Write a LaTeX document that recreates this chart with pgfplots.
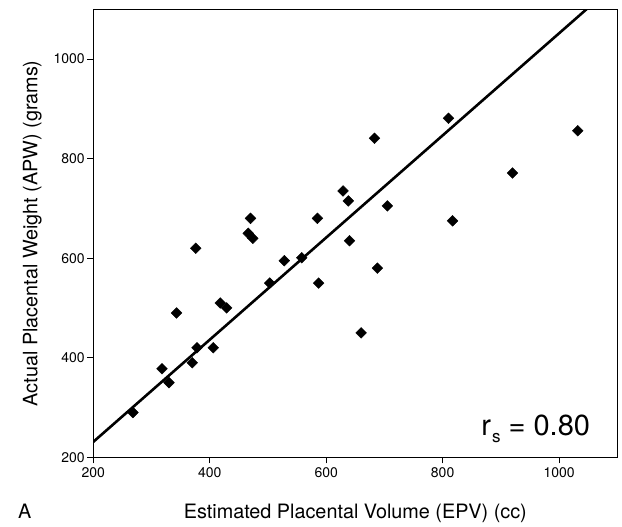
\documentclass[border=0pt]{standalone}
\usepackage{fontspec}
\setmainfont{TeX Gyre Heros}
\usepackage{pgfplots}
\pgfplotsset{compat=1.18}

\begin{document}
\begin{tikzpicture}
  \begin{axis}[
      name=ax,
      scale only axis,
      width=524bp, height=448bp,
      xmin=200, xmax=1100,
      ymin=200, ymax=1100,
      xtick={200,400,600,800,1000},
      ytick={200,400,600,800,1000},
      xtick pos=bottom, ytick pos=left,
      tick align=outside,
      major tick length=6bp,
      tick style={black, line width=0.8bp},
      axis line style={line width=1bp},
      /pgf/number format/assume math mode=true,
      /pgf/number format/1000 sep={},
      ticklabel style={font=\fontsize{14bp}{16bp}\selectfont},
      xticklabel style={yshift=-1bp},
      yticklabel style={xshift=1bp},
      xlabel={Estimated Placental Volume (EPV) (cc)},
      ylabel={Actual Placental Weight (APW) (grams)},
      label style={font=\fontsize{19.8bp}{23bp}\selectfont},
      xlabel style={at={(axis description cs:0.5,-0.1377)}, anchor=base},
      ylabel style={at={(axis description cs:-0.1164,0.5)}, anchor=center},
      clip=true,
    ]

    % regression line
    \addplot [black, line width=2.6bp] coordinates {(200,231) (1047,1100)};

    % EPV vs APW
    \addplot [only marks, mark=square*, mark size=3.8bp,
      mark options={rotate=45, black, fill=black}] table {
      268  290
      318  378
      330  350
      343  490
      370  390
      376  620
      378  420
      406  420
      418  510
      429  500
      466  650
      470  680
      474  640
      503  550
      528  595
      558  601
      585  680
      587  550
      629  735
      638  715
      640  635
      660  450
      688  580
      705  705
      683  841
      810  881
      817  675
      920  771
      1032 856
    };

    \node[anchor=base east, inner sep=0pt, font=\fontsize{29bp}{32bp}\selectfont]
      at (axis description cs:0.9483,0.0478)
      {r\kern1bp\raisebox{-7bp}{\fontsize{17bp}{19bp}\selectfont s} = 0.80};
  \end{axis}

  \node[anchor=base west, inner sep=0pt, font=\fontsize{19.8bp}{23bp}\selectfont]
    at ([xshift=-75.3bp,yshift=-61.7bp]ax.south west) {A};

  % page frame: 622 x 525 px
  \path ([xshift=-93.3bp,yshift=-67.7bp]ax.south west) rectangle
        ([xshift=4.7bp,yshift=9.3bp]ax.north east);
\end{tikzpicture}
\end{document}
